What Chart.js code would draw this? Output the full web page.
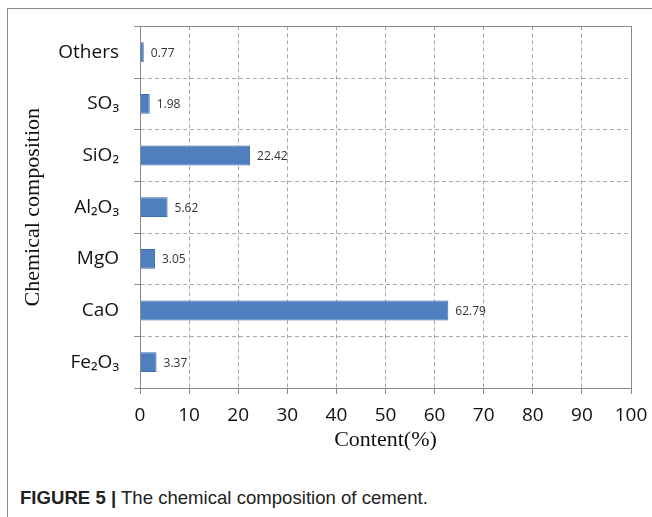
<!DOCTYPE html>
<html>
<head>
<meta charset="utf-8">
<script src="https://cdn.jsdelivr.net/npm/chart.js@4.4.0/dist/chart.umd.min.js"></script>
<style>
  html,body{margin:0;padding:0;background:#fff;width:652px;height:517px;overflow:hidden;}
  #frame{position:absolute;left:7px;top:8px;width:700px;height:600px;border-left:1px solid #8a8a8a;border-top:1px solid #8a8a8a;}
  #c{position:absolute;left:0;top:0;}
  #cap{position:absolute;left:20px;top:487px;font-family:"Liberation Sans",Arial,sans-serif;font-size:19px;color:#222;white-space:nowrap;transform-origin:0 0;}
  #cap b{font-weight:bold;}
</style>
</head>
<body>
<div id="frame"></div>
<canvas id="c" width="652" height="470"></canvas>
<div id="cap"><b>FIGURE 5 |</b> The chemical composition of cement.</div>
<script>
const categories = ['Others', 'SO\u2083', 'SiO\u2082', 'Al\u2082O\u2083', 'MgO', 'CaO', 'Fe\u2082O\u2083'];
const contents = [0.77, 1.98, 22.42, 5.62, 3.05, 62.79, 3.37];
const xTicks = [0, 10, 20, 30, 40, 50, 60, 70, 80, 90, 100];

(function fitCaption(){
  const cap = document.getElementById('cap');
  const w = cap.scrollWidth;
  cap.style.transform = 'scaleX(' + (408 / w) + ')';
})();

const valueLabels = {
  id: 'valueLabels',
  afterDatasetsDraw(chart) {
    const ctx = chart.ctx;
    const meta = chart.getDatasetMeta(0);
    ctx.save();
    ctx.font = '12px "Open Sans", sans-serif';
    ctx.fillStyle = '#333';
    ctx.textBaseline = 'middle';
    ctx.textAlign = 'left';
    meta.data.forEach((bar, i) => {
      ctx.fillText(contents[i].toFixed(2), bar.x + 7, bar.y + 1);
    });
    ctx.restore();
  }
};
const plotFrame = {
  id: 'plotFrame',
  afterDraw(chart) {
    const a = chart.chartArea, ctx = chart.ctx;
    ctx.save();
    ctx.strokeStyle = '#8a8a8a';
    ctx.lineWidth = 1;
    ctx.strokeRect(Math.round(a.left) + 0.5, Math.round(a.top) + 0.5, Math.round(a.right - a.left), Math.round(a.bottom - a.top));
    ctx.restore();
  }
};

new Chart(document.getElementById('c'), {
  type: 'bar',
  data: {
    labels: categories,
    datasets: [{
      data: contents,
      backgroundColor: '#4f7fbe',
      borderColor: '#3f6ea8',
      borderWidth: 1,
      categoryPercentage: 0.8,
      barPercentage: 0.48
    }]
  },
  options: {
    indexAxis: 'y',
    responsive: false,
    animation: false,
    devicePixelRatio: 1,
    layout: { padding: { left: 0, right: 21, top: 24, bottom: 0 } },
    plugins: { legend: { display: false }, tooltip: { enabled: false } },
    scales: {
      x: {
        min: 0, max: 100,
        afterBuildTicks(scale) { scale.ticks = xTicks.map(v => ({ value: v })); },
        afterFit(scale) { scale.height = 82; scale.paddingLeft = 0; scale.paddingRight = 0; },
        grid: { color: '#a8a8a8', lineWidth: 1, tickLength: 6, tickColor: '#8a8a8a', tickBorderDash: [] },
        border: { color: '#8a8a8a', width: 1, dash: [4, 3] },
        ticks: { color: '#111', padding: 10, font: { family: '"Open Sans", sans-serif', size: 19 }, maxRotation: 0 },
        title: { display: true, text: 'Content(%)', color: '#111', font: { family: '"Liberation Serif", "Times New Roman", serif', size: 22 }, padding: { top: 0, bottom: 17 } }
      },
      y: {
        afterFit(scale) { scale.width = 140; },
        grid: { offset: true, color: '#a8a8a8', lineWidth: 1, tickLength: 6, tickColor: '#8a8a8a', tickBorderDash: [] },
        border: { color: '#8a8a8a', width: 1, dash: [4, 3] },
        ticks: { color: '#111', padding: 15, font: { family: '"Open Sans", sans-serif', size: 19 } },
        title: { display: true, text: 'Chemical composition', color: '#111', font: { family: '"Liberation Serif", "Times New Roman", serif', size: 22 }, padding: { top: 20, bottom: 0 } }
      }
    }
  },
  plugins: [valueLabels, plotFrame]
});
</script>
</body>
</html>
